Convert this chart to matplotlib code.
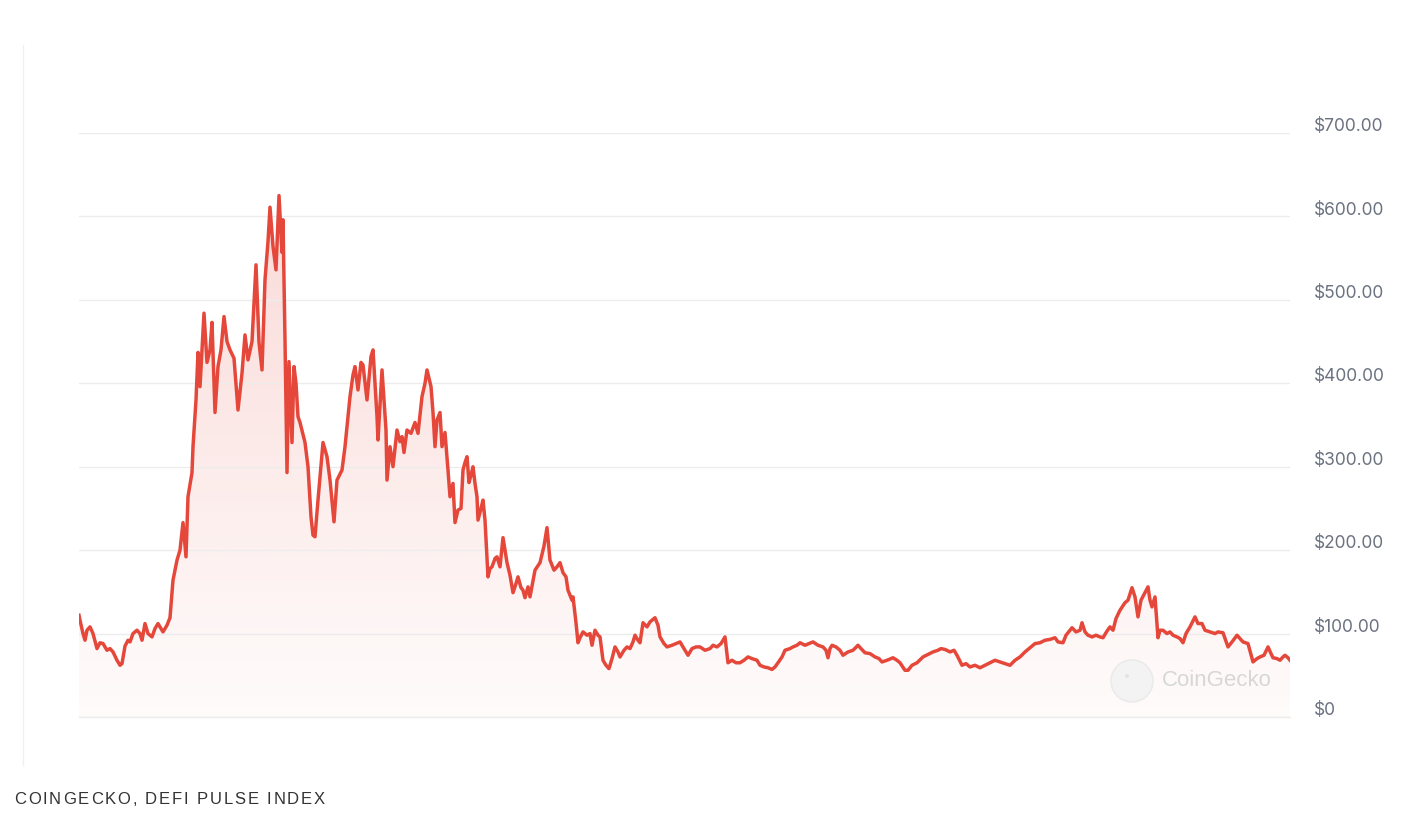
import numpy as np
import matplotlib.pyplot as plt
from matplotlib.transforms import ScaledTranslation
from matplotlib.patches import Circle
from matplotlib.lines import Line2D
from matplotlib.font_manager import FontProperties

# DeFi Pulse Index price (day index from start, USD)
day = [0, 1, 4, 6, 8, 11, 14, 18, 21, 24, 28, 31, 34, 38, 41, 43, 46, 49, 51, 54,
       58, 61, 63, 66, 69, 73, 76, 79, 84, 88, 91, 94, 98, 101, 104, 107, 109, 113, 114, 117,
       119, 121, 125, 128, 131, 133, 136, 139, 142, 145, 148, 151, 155, 159, 163, 166, 169, 173, 177, 180,
       183, 186, 189, 191, 194, 197, 200, 203, 204, 206, 208, 210, 213, 215, 217, 219, 221, 226, 229, 232,
       234, 236, 239, 244, 248, 251, 255, 258, 263, 266, 271, 274, 276, 279, 282, 284, 288, 292, 294, 296,
       298, 299, 303, 307, 308, 311, 314, 318, 321, 323, 325, 328, 332, 336, 339, 343, 346, 348, 352, 354,
       356, 358, 361, 363, 366, 369, 371, 374, 376, 379, 382, 384, 386, 388, 390, 392, 394, 396, 398, 399,
       402, 404, 406, 409, 411, 413, 416, 418, 421, 424, 428, 431, 434, 437, 439, 442, 444, 446, 449, 451,
       456, 461, 465, 468, 471, 475, 478, 481, 484, 487, 489, 493, 494, 497, 499, 501, 504, 508, 511, 513,
       516, 519, 521, 524, 527, 530, 533, 536, 539, 541, 545, 548, 551, 554, 556, 559, 561, 564, 568, 571,
       576, 579, 581, 585, 588, 593, 597, 601, 605, 609, 613, 617, 621, 626, 631, 634, 638, 642, 646, 649,
       653, 657, 661, 665, 669, 673, 678, 681, 685, 689, 693, 696, 699, 703, 706, 711, 714, 718, 721, 726,
       730, 734, 739, 744, 747, 749, 751, 753, 757, 761, 764, 769, 774, 779, 782, 786, 791, 796, 800, 803,
       808, 814, 818, 821, 826, 829, 833, 838, 844, 849, 854, 859, 862, 866, 871, 875, 878, 883, 887, 891,
       896, 901, 906, 911, 916, 921, 926, 931, 936, 941, 946, 951, 956, 961, 966, 971, 976, 979, 984, 987,
       993, 997, 1001, 1003, 1006, 1009, 1013, 1017, 1021, 1024, 1028, 1031, 1034, 1037, 1041, 1046, 1049, 1053, 1056, 1059,
       1062, 1066, 1069, 1071, 1073, 1076, 1079, 1081, 1084, 1088, 1091, 1094, 1098, 1101, 1104, 1107, 1111, 1116, 1119, 1123,
       1126, 1131, 1136, 1139, 1144, 1149, 1153, 1158, 1161, 1164, 1169, 1174, 1178, 1181, 1185, 1189, 1192, 1194, 1198, 1201,
       1204, 1206, 1209, 1211]
price = [122, 116, 100, 92, 104, 108, 100, 82, 89, 88, 80, 82, 78, 68, 62, 64, 85, 92, 90, 100,
         104, 100, 92, 112, 100, 96, 106, 112, 102, 110, 119, 164, 188, 200, 233, 192, 264, 293, 324, 380,
         437, 396, 484, 425, 440, 473, 365, 420, 440, 480, 450, 440, 430, 368, 412, 458, 428, 450, 542, 449,
         416, 524, 570, 611, 564, 536, 625, 557, 596, 452, 293, 426, 329, 420, 400, 360, 353, 329, 300, 240,
         218, 216, 260, 329, 312, 284, 234, 284, 296, 324, 384, 410, 420, 392, 425, 422, 380, 432, 440, 400,
         360, 332, 416, 344, 284, 324, 300, 344, 330, 336, 317, 344, 340, 353, 340, 384, 400, 416, 396, 365,
         324, 356, 365, 324, 341, 296, 264, 280, 233, 248, 250, 296, 305, 312, 281, 290, 300, 280, 264, 236,
         250, 260, 236, 168, 178, 180, 190, 192, 180, 215, 185, 170, 149, 160, 168, 155, 152, 143, 156, 144,
         176, 185, 205, 227, 188, 176, 180, 185, 173, 168, 152, 140, 144, 113, 89, 95, 102, 98, 100, 86,
         104, 98, 96, 68, 62, 58, 70, 84, 78, 72, 80, 84, 82, 90, 98, 92, 89, 113, 108, 114,
         119, 110, 96, 88, 84, 86, 88, 90, 82, 74, 82, 84, 84, 80, 82, 86, 84, 88, 96, 65,
         68, 65, 65, 68, 72, 70, 68, 62, 60, 59, 57, 60, 65, 72, 80, 82, 84, 86, 89, 86,
         88, 90, 86, 84, 80, 71, 82, 86, 84, 80, 74, 78, 80, 86, 82, 77, 76, 72, 70, 66,
         68, 71, 68, 65, 56, 56, 62, 65, 72, 75, 78, 80, 82, 81, 78, 80, 74, 62, 64, 60,
         62, 59, 62, 65, 68, 66, 64, 62, 68, 72, 78, 83, 88, 89, 92, 93, 95, 90, 89, 98,
         107, 102, 104, 113, 102, 98, 96, 98, 96, 95, 103, 108, 104, 118, 128, 137, 140, 155, 144, 120,
         140, 149, 156, 140, 132, 144, 95, 104, 104, 100, 102, 98, 96, 94, 89, 100, 108, 120, 112, 112,
         104, 102, 100, 102, 101, 84, 90, 98, 94, 90, 88, 66, 70, 72, 74, 84, 76, 71, 70, 68,
         72, 74, 71, 68]

y_ticks = [0, 100, 200, 300, 400, 500, 600, 700]
y_labels = ['$0', '$100.00', '$200.00', '$300.00', '$400.00', '$500.00', '$600.00', '$700.00']
caption = 'COINGECKO, DEFI PULSE INDEX'

line_color = '#e5483b'

fig = plt.figure(figsize=(14.1, 8.26), dpi=100)
ax = fig.add_axes([79 / 1410, 1 - 717 / 826, (1290 - 79) / 1410, (717 - 133) / 826])

x = np.array(day)
y = np.array(price)

# gradient fill under the line
grad = np.linspace(0.02, 0.2, 256).reshape(-1, 1)
rgba = np.zeros((256, 1, 4))
rgba[..., 0] = 229 / 255
rgba[..., 1] = 72 / 255
rgba[..., 2] = 59 / 255
rgba[..., 3] = grad
im = ax.imshow(rgba, extent=[x.min(), x.max(), 0, y.max()], origin='lower',
               aspect='auto', zorder=1)
poly = ax.fill_between(x, y, 0, color='none')
im.set_clip_path(poly.get_paths()[0], transform=ax.transData)

ax.plot(x, y, color=line_color, lw=2.5, zorder=3, solid_joinstyle='round')

ax.set_xlim(x.min(), x.max())
ax.set_ylim(0, 700)
ax.set_yticks(y_ticks)
ax.set_yticklabels(y_labels, family='Inter')
ax.yaxis.tick_right()
ax.tick_params(axis='y', length=0, pad=17, labelsize=12.5, labelcolor='#6b7280')
ax.set_xticks([])
for lab in ax.get_yticklabels():
    lab.set_transform(lab.get_transform() + ScaledTranslation(0, 6 / 72, fig.dpi_scale_trans))
ax.grid(axis='y', color='#ececec', lw=1, zorder=0)
ax.axhline(0, color='#ececec', lw=1, zorder=0, clip_on=False)
for s in ax.spines.values():
    s.set_visible(False)

# watermark
fig.add_artist(Circle((11.32, 1.45), 0.21, transform=fig.dpi_scale_trans,
                      facecolor='#f3f3f3', edgecolor='#ebebeb', lw=1.2, zorder=2))
fig.add_artist(Circle((11.27, 1.50), 0.02, transform=fig.dpi_scale_trans,
                      facecolor='#e2e2e2', edgecolor='none', zorder=3))
fig.text(1162 / 1410, 1 - 681 / 826, 'CoinGecko', fontsize=16, color='#d7d7d7',
         family='Liberation Sans', va='center', ha='left')

# thin frame line on the left
fig.add_artist(Line2D([23 / 1410, 23 / 1410], [1 - 45 / 826, 1 - 765 / 826],
                      color='#f0f0f0', lw=1))

# caption with letter spacing
fp = FontProperties(family='Liberation Sans', size=12)
renderer = fig.canvas.get_renderer()
full_w = renderer.get_text_width_height_descent(caption, fp, ismath=False)[0]
track = (311 - full_w) / (len(caption) - 1)
bar_w = renderer.get_text_width_height_descent('|', fp, ismath=False)[0]
for i, ch in enumerate(caption):
    w = renderer.get_text_width_height_descent(caption[:i] + '|', fp, ismath=False)[0] - bar_w if i else 0
    fig.text((14 + w + i * track) / 1410, 1 - 800 / 826, ch, fontproperties=fp,
             color='#333333', va='center', ha='left')

fig.savefig('out.png', dpi=100)
